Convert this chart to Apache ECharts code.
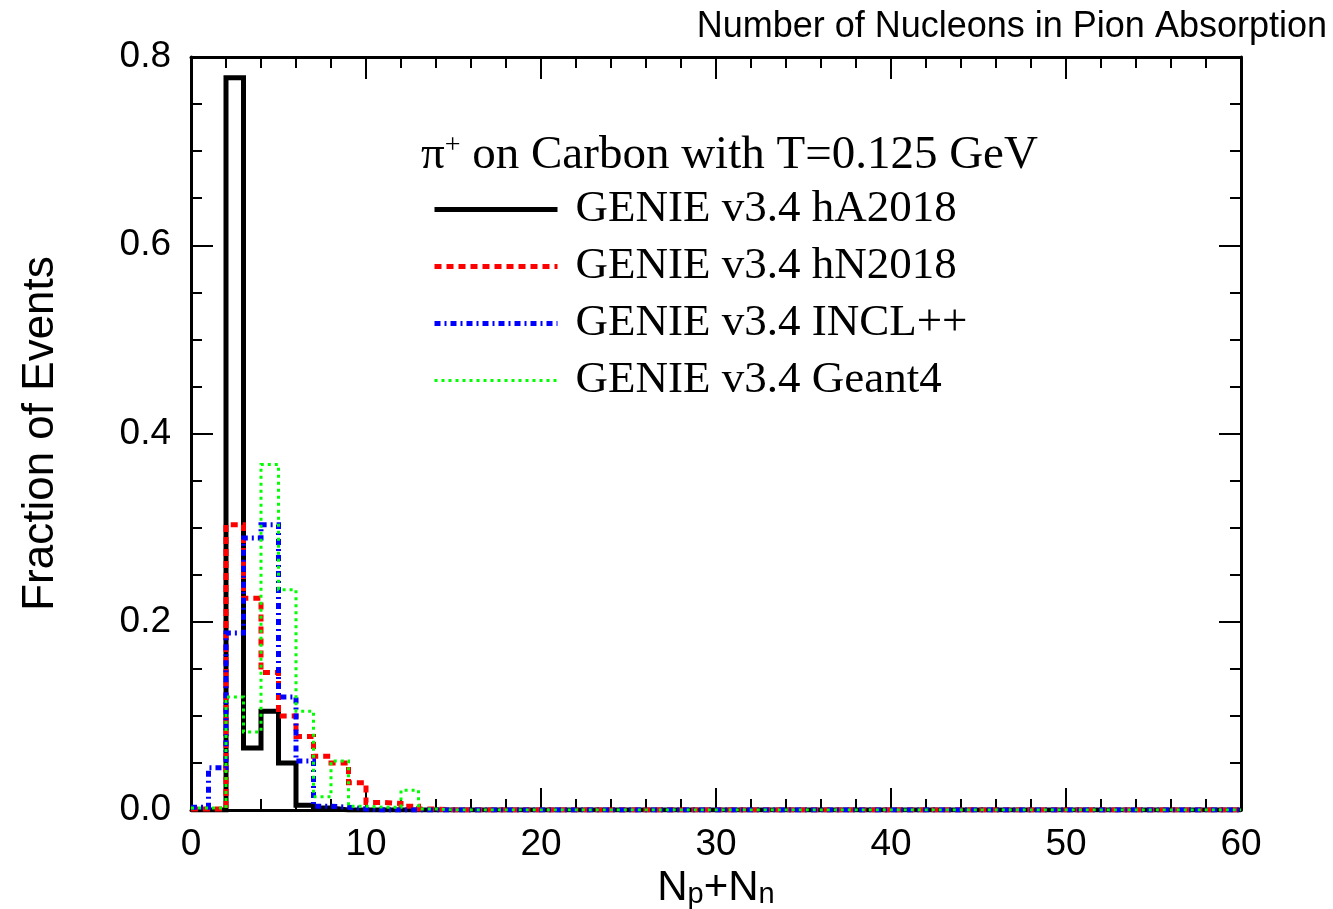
<!DOCTYPE html>
<html>
<head>
<meta charset="utf-8">
<script src="https://cdn.jsdelivr.net/npm/echarts@6/dist/echarts.min.js"></script>
<style>
  html, body { margin: 0; padding: 0; background: #ffffff; }
  #chart { width: 1333px; height: 909px; }
</style>
</head>
<body>
<div id="chart"></div>
<script>
// bin lower edges, N_p+N_n (unit bins from 0 to 60)
const binLow = [
  0, 1, 2, 3, 4, 5, 6, 7, 8, 9, 10, 11, 12, 13, 14, 15, 16, 17, 18, 19,
  20, 21, 22, 23, 24, 25, 26, 27, 28, 29, 30, 31, 32, 33, 34, 35, 36, 37, 38, 39,
  40, 41, 42, 43, 44, 45, 46, 47, 48, 49, 50, 51, 52, 53, 54, 55, 56, 57, 58, 59
];
const binHigh = 60;

// fraction of events per bin
const hA2018 = [
  0, 0, 0.778, 0.066, 0.105, 0.050, 0.005, 0.002, 0, 0, 0, 0, 0, 0, 0, 0, 0, 0, 0, 0,
  0, 0, 0, 0, 0, 0, 0, 0, 0, 0, 0, 0, 0, 0, 0, 0, 0, 0, 0, 0,
  0, 0, 0, 0, 0, 0, 0, 0, 0, 0, 0, 0, 0, 0, 0, 0, 0, 0, 0, 0
];
const hN2018 = [
  0.001, 0.001, 0.303, 0.225, 0.146, 0.100, 0.078, 0.057, 0.050, 0.029, 0.008, 0.007, 0.004, 0.001, 0, 0, 0, 0, 0, 0,
  0, 0, 0, 0, 0, 0, 0, 0, 0, 0, 0, 0, 0, 0, 0, 0, 0, 0, 0, 0,
  0, 0, 0, 0, 0, 0, 0, 0, 0, 0, 0, 0, 0, 0, 0, 0, 0, 0, 0, 0
];
const inclpp = [
  0.003, 0.045, 0.188, 0.289, 0.303, 0.120, 0.052, 0.004, 0.003, 0.001, 0, 0, 0, 0, 0, 0, 0, 0, 0, 0,
  0, 0, 0, 0, 0, 0, 0, 0, 0, 0, 0, 0, 0, 0, 0, 0, 0, 0, 0, 0,
  0, 0, 0, 0, 0, 0, 0, 0, 0, 0, 0, 0, 0, 0, 0, 0, 0, 0, 0, 0
];
const geant4 = [
  0.002, 0.002, 0.120, 0.083, 0.367, 0.234, 0.105, 0.014, 0.052, 0.004, 0.003, 0.003, 0.021, 0.001, 0, 0, 0, 0, 0, 0,
  0, 0, 0, 0, 0, 0, 0, 0, 0, 0, 0, 0, 0, 0, 0, 0, 0, 0, 0, 0,
  0, 0, 0, 0, 0, 0, 0, 0, 0, 0, 0, 0, 0, 0, 0, 0, 0, 0, 0, 0
];

const seriesNames = [
  "GENIE v3.4 hA2018",
  "GENIE v3.4 hN2018",
  "GENIE v3.4 INCL++",
  "GENIE v3.4 Geant4"
];

const SANS = "Liberation Sans";
const SERIF = "Liberation Serif";

// histogram outline: one point per bin edge, drawn with step
function toSteps(vals) {
  const pts = vals.map((v, i) => [binLow[i], v]);
  pts.push([binHigh, vals[vals.length - 1]]);
  return pts;
}

function histSeries(name, vals, color, width, dash, z) {
  return {
    name: name,
    type: "line",
    step: "end",
    data: toSteps(vals),
    symbol: "none",
    lineStyle: { color: color, width: width, type: dash, cap: "butt", join: "miter" },
    itemStyle: { color: color },
    emphasis: { disabled: true },
    z: z,
    xAxisIndex: 0,
    yAxisIndex: 0
  };
}

const frame = { show: true, onZero: false, lineStyle: { color: "#000", width: 3 } };
const tick = { inside: true, length: 22, lineStyle: { color: "#000", width: 2 } };

const chart = echarts.init(document.getElementById("chart"), null, { renderer: "canvas" });

chart.setOption({
  backgroundColor: "#ffffff",
  animation: false,
  title: [
    {
      text: "Number of Nucleons in Pion Absorption",
      right: 1,
      top: 4,
      textStyle: { fontFamily: SANS, fontSize: 36, fontWeight: "normal", color: "#000" }
    },
    {
      text: "{pi|\u03c0}{sup|+}{t| on Carbon with T=0.125 GeV}",
      left: 416,
      top: 127,
      textStyle: {
        fontWeight: "normal",
        rich: {
          pi: { fontFamily: SERIF, fontSize: 47, fontWeight: "normal", color: "#000" },
          sup: { fontFamily: SERIF, fontSize: 28, fontWeight: "normal", color: "#000", verticalAlign: "top" },
          t: { fontFamily: SERIF, fontSize: 47, fontWeight: "normal", color: "#000" }
        }
      }
    }
  ],
  legend: {
    data: seriesNames,
    orient: "vertical",
    left: 427,
    top: 176,
    itemWidth: 123,
    itemHeight: 2,
    itemGap: 0,
    selectedMode: false,
    itemStyle: { opacity: 0 },
    lineStyle: { width: "inherit", type: "inherit" },
    textStyle: {
      fontFamily: SERIF,
      fontSize: 45,
      color: "#000",
      lineHeight: 57,
      padding: [0, 0, 0, 13]
    }
  },
  grid: { left: 191, right: 92, top: 57, bottom: 99, outerBoundsMode: "none" },
  xAxis: [
    {
      type: "value",
      min: 0,
      max: 60,
      interval: 10,
      name: "{n|N}{s|p}{n|+N}{s|n}",
      nameLocation: "middle",
      nameGap: 52,
      nameTextStyle: {
        rich: {
          n: { fontFamily: SANS, fontSize: 42, color: "#000" },
          s: { fontFamily: SANS, fontSize: 29, color: "#000", verticalAlign: "bottom" }
        }
      },
      axisLine: frame,
      axisTick: tick,
      minorTick: { show: true, splitNumber: 5, length: 11, lineStyle: { color: "#000", width: 2 } },
      axisLabel: { margin: 16, fontFamily: SANS, fontSize: 37, color: "#000" },
      splitLine: { show: false }
    },
    {
      type: "value",
      position: "top",
      min: 0,
      max: 60,
      interval: 10,
      axisLine: frame,
      axisTick: tick,
      minorTick: { show: true, splitNumber: 5, length: 11, lineStyle: { color: "#000", width: 2 } },
      axisLabel: { show: false },
      splitLine: { show: false }
    }
  ],
  yAxis: [
    {
      type: "value",
      min: 0,
      max: 0.8,
      interval: 0.2,
      name: "Fraction of Events",
      nameLocation: "middle",
      nameRotate: 90,
      nameGap: 128,
      nameTextStyle: { fontFamily: SANS, fontSize: 44, color: "#000" },
      axisLine: frame,
      axisTick: tick,
      minorTick: { show: true, splitNumber: 4, length: 11, lineStyle: { color: "#000", width: 2 } },
      axisLabel: {
        margin: 20,
        fontFamily: SANS,
        fontSize: 37,
        color: "#000",
        formatter: (v) => v.toFixed(1)
      },
      splitLine: { show: false }
    },
    {
      type: "value",
      position: "right",
      min: 0,
      max: 0.8,
      interval: 0.2,
      axisLine: frame,
      axisTick: tick,
      minorTick: { show: true, splitNumber: 4, length: 11, lineStyle: { color: "#000", width: 2 } },
      axisLabel: { show: false },
      splitLine: { show: false }
    }
  ],
  series: [
    histSeries(seriesNames[0], hA2018, "#000000", 5, "solid", 1),
    histSeries(seriesNames[1], hN2018, "#ff0000", 5, [7, 5], 2),
    histSeries(seriesNames[2], inclpp, "#0000ff", 5, [6, 4, 2, 4], 3),
    histSeries(seriesNames[3], geant4, "#00ff00", 3, [3, 4], 4)
  ]
});
</script>
</body>
</html>
